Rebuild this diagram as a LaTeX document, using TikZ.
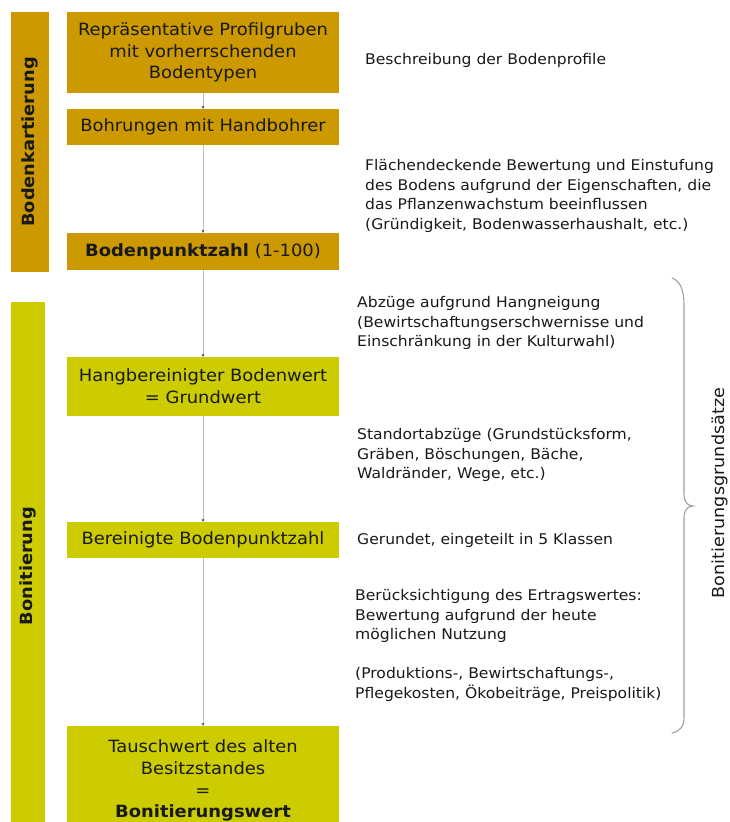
\documentclass[tikz,border=0pt]{standalone}
\usepackage{fontspec}
\setmainfont{DejaVu Sans}[FakeStretch=1.06]
\usetikzlibrary{arrows.meta}
\definecolor{gold}{RGB}{204,153,0}
\definecolor{lime}{RGB}{204,204,0}
\definecolor{lineg}{RGB}{190,190,190}
\definecolor{braceg}{RGB}{160,160,160}
\tikzset{
  boxbase/.style={inner sep=0pt, align=center, minimum width=272pt, text=black!90,
    font=\fontsize{16.9}{21.8}\selectfont},
  goldbox/.style={boxbase, fill=gold},
  limebox/.style={boxbase, fill=lime},
  barlabel/.style={rotate=90, font=\bfseries\fontsize{16.8}{18}\selectfont, text=black!90},
  note/.style={anchor=west, align=left, inner sep=0pt, text=black!90,
    font=\fontsize{14.7}{19.5}\selectfont},
  conn/.style={draw=lineg, line width=0.9pt, -{Stealth[length=3pt,width=3pt,color=black!70]}}
}
\begin{document}
\begin{tikzpicture}[x=1pt,y=-1pt]
\useasboundingbox (0,0) rectangle (729,822);
% side bars
\node[fill=gold, minimum width=38pt, minimum height=260pt, inner sep=0pt] (bar1) at (30,142) {};
\node[barlabel] (bar1l) at (30,142) {Bodenkartierung};
\node[fill=lime, minimum width=34pt, minimum height=538pt, inner sep=0pt] (bar2) at (28,571) {};
\node[barlabel] (bar2l) at (28,566) {Bonitierung};
% boxes
\node[goldbox, minimum height=81pt] (b1) at (203,52.5) {Repräsentative Profilgruben\\mit vorherrschenden\\Bodentypen};
\node[goldbox, minimum height=36pt] (b2) at (203,127) {Bohrungen mit Handbohrer};
\node[goldbox, minimum height=37pt] (b3) at (203,251.5) {\textbf{Bodenpunktzahl} (1-100)};
\node[limebox, minimum height=59pt] (b4) at (203,386.5) {Hangbereinigter Bodenwert\\= Grundwert};
\node[limebox, minimum height=36pt] (b5) at (203,540) {Bereinigte Bodenpunktzahl};
\node[limebox, minimum height=109pt] (b6) at (203,780.5) {Tauschwert des alten\\Besitzstandes\\=\\\textbf{Bonitierungswert}};
% connectors
\draw[conn] (b1.south) -- (b2.north);
\draw[conn] (b2.south) -- (b3.north);
\draw[conn] (b3.south) -- (b4.north);
\draw[conn] (b4.south) -- (b5.north);
\draw[conn] (b5.south) -- (b6.north);
% notes
\node[note] (n1) at (365,60) {Beschreibung der Bodenprofile};
\node[note] (n2) at (365,196) {Flächendeckende Bewertung und Einstufung\\des Bodens aufgrund der Eigenschaften, die\\das Pflanzenwachstum beeinflussen\\(Gründigkeit, Bodenwasserhaushalt, etc.)};
\node[note] (n3) at (357,323) {Abzüge aufgrund Hangneigung\\(Bewirtschaftungserschwernisse und\\Einschränkung in der Kulturwahl)};
\node[note] (n4) at (357,455) {Standortabzüge (Grundstücksform,\\Gräben, Böschungen, Bäche,\\Waldränder, Wege, etc.)};
\node[note] (n5) at (357,540) {Gerundet, eingeteilt in 5 Klassen};
\node[note] (n6) at (355,645.5) {Berücksichtigung des Ertragswertes:\\Bewertung aufgrund der heute\\möglichen Nutzung\\[19.5pt](Produktions-, Bewirtschaftungs-,\\Pflegekosten, Ökobeiträge, Preispolitik)};
% brace
\draw[braceg, line width=1.1pt, line cap=round]
  (672,278) .. controls (681,281) and (684,292) .. (684,305)
  -- (684,494) .. controls (684,502) and (688,506) .. (693,506)
  .. controls (688,506) and (684,510) .. (684,518)
  -- (684,717) .. controls (684,727) and (680,731) .. (672,733);
\node[rotate=90, inner sep=0pt, text=black!90, font=\fontsize{16.6}{18}\selectfont] (bl) at (720,493) {Bonitierungsgrundsätze};
\end{tikzpicture}
\end{document}
